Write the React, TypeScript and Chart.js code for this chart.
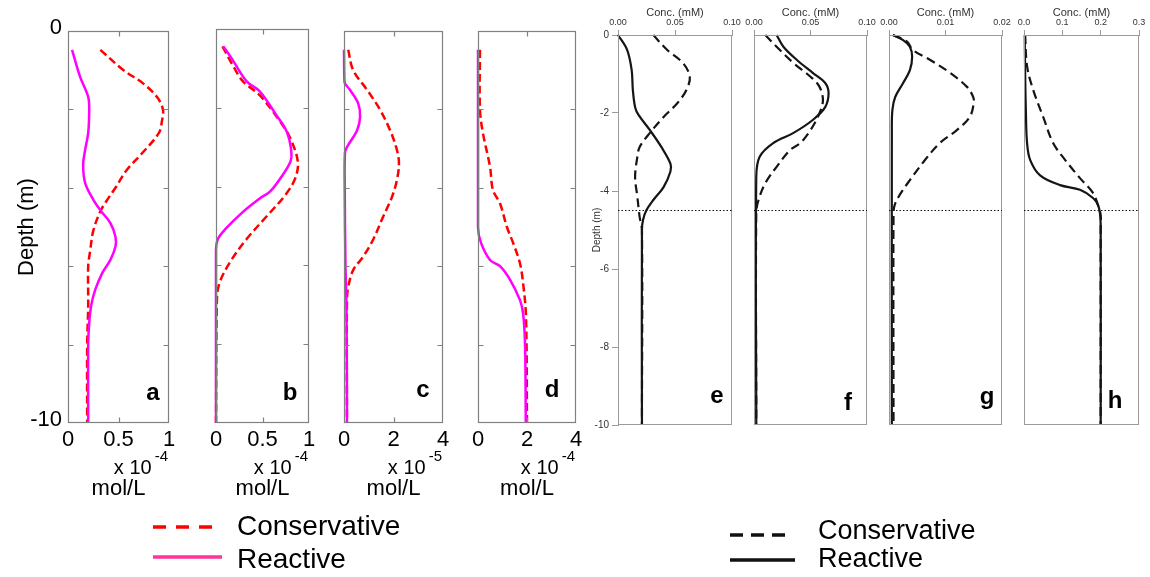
import React, { useEffect, useRef } from "react";
import { Chart, registerables } from "chart.js";

Chart.register(...registerables);

const FONT = "'Liberation Sans', Arial, Helvetica, sans-serif";
Chart.defaults.font.family = FONT;

const PAGE_W = 1150;
const PAGE_H = 577;

// ---------- axes ----------
const depthTicks = [0, -2, -4, -6, -8, -10];
const depthEndLabels = [0, -10];
const ticksAB = [0, 0.5, 1];
const ticksCD = [0, 2, 4];
const ticksEF = [0, 0.05, 0.1];
const ticksG = [0, 0.01, 0.02];
const ticksH = [0, 0.1, 0.2, 0.3];
const thermoclineDepth = -4.5;

// ---------- simulated profiles (mol/L) ----------
// a  (x 10^-4)
const aConsDepth = [-0.48, -1.0, -1.33, -1.68, -2.0, -2.3, -2.6, -3.1, -3.55, -4.0, -4.3, -4.6, -5.1, -5.6, -6.0, -7.0, -8.0, -10.0];
const aConsConc = [0.32, 0.55, 0.74, 0.88, 0.94, 0.93, 0.9, 0.74, 0.58, 0.47, 0.39, 0.32, 0.25, 0.22, 0.2, 0.2, 0.19, 0.19];
const aReacDepth = [-0.48, -1.17, -1.68, -2.0, -2.6, -3.03, -3.4, -3.88, -4.3, -4.57, -4.9, -5.25, -5.5, -5.84, -6.17, -6.6, -7.0, -7.45, -8.0, -10.0];
const aReacConc = [0.04, 0.12, 0.2, 0.21, 0.2, 0.17, 0.15, 0.17, 0.25, 0.32, 0.42, 0.47, 0.47, 0.42, 0.34, 0.27, 0.23, 0.21, 0.2, 0.2];

// b  (x 10^-4)
const bConsDepth = [-0.44, -0.92, -1.33, -1.68, -2.35, -2.78, -3.37, -3.8, -4.23, -4.74, -5.33, -5.92, -6.43, -6.86, -10.0];
const bConsConc = [0.07, 0.18, 0.29, 0.47, 0.69, 0.8, 0.88, 0.85, 0.74, 0.55, 0.33, 0.15, 0.04, 0.01, 0.0];
const bReacDepth = [-0.44, -0.79, -1.33, -1.58, -2.19, -2.6, -3.1, -3.37, -3.8, -4.13, -4.3, -4.64, -5.08, -5.33, -5.6, -10.0];
const bReacConc = [0.08, 0.18, 0.33, 0.47, 0.65, 0.76, 0.81, 0.8, 0.69, 0.58, 0.47, 0.29, 0.1, 0.02, 0.0, 0.0];

// c  (x 10^-5)
const cConsDepth = [-0.48, -1.0, -1.5, -2.0, -2.53, -3.04, -3.37, -3.8, -4.23, -4.74, -5.33, -5.76, -6.1, -6.53, -6.86, -10.0];
const cConsConc = [0.17, 0.37, 0.93, 1.45, 1.86, 2.14, 2.22, 2.14, 1.94, 1.58, 1.17, 0.77, 0.37, 0.17, 0.12, 0.12];
const cReacDepth = [-0.48, -1.3, -1.5, -1.84, -2.19, -2.53, -2.96, -3.1, -4.0, -6.0, -7.0, -10.0];
const cReacConc = [0.0, 0.02, 0.24, 0.57, 0.65, 0.53, 0.12, 0.04, 0.03, 0.06, 0.1, 0.12];

// d  (x 10^-4)
const dConsDepth = [-0.48, -2.0, -2.6, -3.46, -4.06, -4.4, -5.0, -5.4, -5.92, -6.43, -7.3, -10.0];
const dConsConc = [0.08, 0.08, 0.2, 0.49, 0.61, 0.9, 1.18, 1.43, 1.71, 1.84, 1.96, 2.0];
const dReacDepth = [-0.48, -5.0, -5.4, -5.84, -6.0, -6.35, -6.86, -7.2, -8.0, -10.0];
const dReacConc = [0.0, 0.0, 0.12, 0.49, 0.9, 1.31, 1.71, 1.84, 1.92, 1.95];

// ---------- field profiles (mM) ----------
const eConsDepth = [0, -0.38, -0.72, -1.07, -1.41, -1.75, -2.1, -2.51, -2.87, -3.12, -3.64, -4.15, -4.67, -5.0, -10.0];
const eConsConc = [0.031, 0.043, 0.057, 0.063, 0.06, 0.052, 0.04, 0.028, 0.019, 0.017, 0.015, 0.017, 0.019, 0.021, 0.021];
const eReacDepth = [0, -0.38, -0.9, -1.4, -1.85, -2.05, -2.44, -2.87, -3.3, -3.5, -3.9, -4.23, -4.49, -4.74, -5.0, -10.0];
const eReacConc = [0.0, 0.008, 0.012, 0.013, 0.015, 0.018, 0.028, 0.038, 0.046, 0.046, 0.04, 0.031, 0.025, 0.022, 0.021, 0.021];

const fConsDepth = [0, -0.3, -0.72, -1.07, -1.33, -1.67, -2.0, -2.44, -2.77, -2.95, -3.38, -3.8, -4.23, -4.56, -10.0];
const fConsConc = [0.01, 0.02, 0.035, 0.05, 0.058, 0.061, 0.058, 0.05, 0.041, 0.032, 0.02, 0.01, 0.004, 0.002, 0.002];
const fReacDepth = [0, -0.3, -0.64, -0.97, -1.23, -1.49, -1.85, -2.18, -2.51, -2.77, -3.12, -3.64, -10.0];
const fReacConc = [0.02, 0.026, 0.038, 0.052, 0.063, 0.066, 0.063, 0.052, 0.035, 0.017, 0.005, 0.002, 0.002];

const gConsDepth = [0, -0.17, -0.38, -0.64, -0.97, -1.33, -1.59, -1.75, -2.1, -2.44, -2.77, -3.2, -3.72, -4.1, -4.36, -4.56, -10.0];
const gConsConc = [0.0007, 0.0032, 0.0042, 0.0073, 0.0108, 0.0138, 0.0149, 0.015, 0.0143, 0.012, 0.009, 0.0064, 0.0037, 0.0019, 0.001, 0.0008, 0.0008];
const gReacDepth = [0, -0.13, -0.3, -0.56, -0.9, -1.23, -1.59, -1.92, -2.5, -10.0];
const gReacConc = [0.0007, 0.0025, 0.0037, 0.0041, 0.0037, 0.0025, 0.0011, 0.0006, 0.0005, 0.0005];

const hConsDepth = [0, -0.8, -1.41, -2.1, -2.77, -3.2, -3.67, -4.05, -4.36, -4.62, -5.0, -10.0];
const hConsConc = [0.003, 0.008, 0.024, 0.05, 0.076, 0.107, 0.146, 0.18, 0.193, 0.2, 0.2, 0.2];
const hReacDepth = [0, -1.0, -2.0, -2.77, -3.2, -3.6, -3.85, -3.97, -4.18, -4.36, -4.56, -4.87, -10.0];
const hReacConc = [0.002, 0.003, 0.005, 0.008, 0.016, 0.042, 0.094, 0.146, 0.18, 0.193, 0.198, 0.2, 0.2];

// ---------- panel layout ----------
type Box = { left: number; top: number; right: number; bottom: number };
type Panel = {
  key: string;
  letter: string;
  kind: "model" | "field";
  box: Box;
  xTicks: number[];
  xDigits: number | null;
  cons: [number[], number[]];
  reac: [number[], number[]];
  showDepth: boolean;
  expo?: string;
  letterAt: [number, number];
  legend?: any;
};

const modelLegend = {
  font: 28,
  textX: 237,
  items: [
    { label: "Conservative", color: "#ff0000", dash: [13, 10], x0: 153, x1: 212, y: 527, ty: 527 },
    { label: "Reactive", color: "#ff3399", dash: [], x0: 153, x1: 222, y: 557, ty: 560 },
  ],
};
const fieldLegend = {
  font: 27,
  textX: 818,
  items: [
    { label: "Conservative", color: "#111", dash: [13, 8], x0: 730, x1: 788, y: 535, ty: 532 },
    { label: "Reactive", color: "#111", dash: [], x0: 730, x1: 795, y: 560, ty: 560 },
  ],
};

const panels: Panel[] = [
  { key: "a", letter: "a", kind: "model", box: { left: 68, top: 31, right: 169, bottom: 423 }, xTicks: ticksAB, xDigits: null, cons: [aConsDepth, aConsConc], reac: [aReacDepth, aReacConc], showDepth: true, expo: "-4", letterAt: [-16, -23], legend: modelLegend },
  { key: "b", letter: "b", kind: "model", box: { left: 216, top: 29, right: 309, bottom: 423 }, xTicks: ticksAB, xDigits: null, cons: [bConsDepth, bConsConc], reac: [bReacDepth, bReacConc], showDepth: false, expo: "-4", letterAt: [-19, -23] },
  { key: "c", letter: "c", kind: "model", box: { left: 344, top: 31, right: 443, bottom: 423 }, xTicks: ticksCD, xDigits: null, cons: [cConsDepth, cConsConc], reac: [cReacDepth, cReacConc], showDepth: false, expo: "-5", letterAt: [-20, -26] },
  { key: "d", letter: "d", kind: "model", box: { left: 478, top: 31, right: 576, bottom: 423 }, xTicks: ticksCD, xDigits: null, cons: [dConsDepth, dConsConc], reac: [dReacDepth, dReacConc], showDepth: false, expo: "-4", letterAt: [-24, -26] },
  { key: "e", letter: "e", kind: "field", box: { left: 618, top: 35, right: 732, bottom: 425 }, xTicks: ticksEF, xDigits: 2, cons: [eConsDepth, eConsConc], reac: [eReacDepth, eReacConc], showDepth: true, letterAt: [-15, -22], legend: fieldLegend },
  { key: "f", letter: "f", kind: "field", box: { left: 754, top: 35, right: 867, bottom: 425 }, xTicks: ticksEF, xDigits: 2, cons: [fConsDepth, fConsConc], reac: [fReacDepth, fReacConc], showDepth: false, letterAt: [-19, -15] },
  { key: "g", letter: "g", kind: "field", box: { left: 889, top: 35, right: 1002, bottom: 425 }, xTicks: ticksG, xDigits: 2, cons: [gConsDepth, gConsConc], reac: [gReacDepth, gReacConc], showDepth: false, letterAt: [-15, -21] },
  { key: "h", letter: "h", kind: "field", box: { left: 1024, top: 35, right: 1139, bottom: 425 }, xTicks: ticksH, xDigits: 1, cons: [hConsDepth, hConsConc], reac: [hReacDepth, hReacConc], showDepth: false, letterAt: [-24, -17] },
];

const toPoints = ([depth, conc]: [number[], number[]]) => depth.map((d, i) => ({ x: conc[i], y: d }));

// frame, inward ticks, reference line, panel letter, exponent and legend
const decorPlugin = {
  id: "decor",
  afterDraw(chart: any, _args: any, o: any) {
    const { ctx, chartArea: ca } = chart;
    const xs = chart.scales.x;
    const ys = chart.scales.y;
    const L = Math.round(ca.left) + 0.5;
    const R = Math.round(ca.right) - 0.5;
    const T = Math.round(ca.top) + 0.5;
    const B = Math.round(ca.bottom) - 0.5;
    ctx.save();

    ctx.strokeStyle = o.frameColor;
    ctx.lineWidth = o.frameWidth;
    ctx.setLineDash([]);
    ctx.strokeRect(L, T, R - L, B - T);

    if (o.inward) {
      ctx.beginPath();
      for (const v of o.yTicks) {
        if (v === ys.min || v === ys.max) continue;
        const py = Math.round(ys.getPixelForValue(v)) + 0.5;
        ctx.moveTo(L, py);
        ctx.lineTo(L + 5, py);
        ctx.moveTo(R, py);
        ctx.lineTo(R - 5, py);
      }
      for (const v of o.xTicks) {
        if (v === xs.min || v === xs.max) continue;
        const px = Math.round(xs.getPixelForValue(v)) + 0.5;
        ctx.moveTo(px, T);
        ctx.lineTo(px, T + 5);
        ctx.moveTo(px, B);
        ctx.lineTo(px, B - 5);
      }
      ctx.stroke();
    }

    if (o.refDepth != null) {
      const py = Math.round(ys.getPixelForValue(o.refDepth)) + 0.5;
      ctx.strokeStyle = "#111";
      ctx.lineWidth = 1.2;
      ctx.setLineDash([1.5, 2]);
      ctx.beginPath();
      ctx.moveTo(ca.left, py);
      ctx.lineTo(ca.right, py);
      ctx.stroke();
      ctx.setLineDash([]);
    }

    ctx.fillStyle = "#000";
    ctx.font = `bold 24px ${FONT}`;
    ctx.textAlign = "center";
    ctx.textBaseline = "alphabetic";
    ctx.fillText(o.letter, ca.right + o.letterAt[0], ca.bottom + o.letterAt[1]);

    if (o.expo) {
      const y = 468;
      ctx.textAlign = "right";
      ctx.textBaseline = "middle";
      ctx.font = `15px ${FONT}`;
      const sw = ctx.measureText(o.expo).width;
      const rx = ca.right - 1;
      ctx.fillText(o.expo, rx, y - 11);
      ctx.font = `20px ${FONT}`;
      ctx.fillText("x 10", rx - sw - 3, y);
    }

    if (o.legend) {
      const lg = o.legend;
      for (const it of lg.items) {
        ctx.strokeStyle = it.color;
        ctx.lineWidth = 3.5;
        ctx.setLineDash(it.dash);
        ctx.beginPath();
        ctx.moveTo(it.x0, it.y);
        ctx.lineTo(it.x1, it.y);
        ctx.stroke();
        ctx.setLineDash([]);
        ctx.fillStyle = "#000";
        ctx.font = `${lg.font}px ${FONT}`;
        ctx.textAlign = "left";
        ctx.textBaseline = "middle";
        ctx.fillText(it.label, lg.textX, it.ty);
      }
    }
    ctx.restore();
  },
};

function buildConfig(p: Panel): any {
  const model = p.kind === "model";
  const yW = p.showDepth ? (model ? 68 : 40) : 0;
  const xH = model ? PAGE_H - p.box.bottom : p.box.top;
  const fmt = (v: number) => (p.xDigits == null ? String(+v.toFixed(3)) : v.toFixed(p.xDigits));
  const setTicks = (arr: number[]) => (s: any) => {
    s.ticks = arr.map((value) => ({ value }));
  };

  const reacStyle = model
    ? { borderColor: "#ff00ff", borderWidth: 2.5, borderDash: [] }
    : { borderColor: "#151515", borderWidth: 2.2, borderDash: [] };
  const consStyle = model
    ? { borderColor: "#ff0000", borderWidth: 2.5, borderDash: [8, 4] }
    : { borderColor: "#151515", borderWidth: 2.2, borderDash: [9, 5] };

  const common = { pointRadius: 0, fill: false, tension: 0.35, clip: 6 };

  const xScale = model
    ? {
        type: "linear",
        position: "bottom",
        min: p.xTicks[0],
        max: p.xTicks[p.xTicks.length - 1],
        afterBuildTicks: setTicks(p.xTicks),
        afterFit: (s: any) => {
          s.height = xH;
        },
        grid: { display: false, drawTicks: false },
        border: { display: false },
        ticks: { autoSkip: false, maxRotation: 0, padding: 4, color: "#000", font: { size: 22 }, callback: (v: any) => fmt(+v) },
        title: { display: true, text: "mol/L", color: "#000", font: { size: 22 }, padding: { top: 0, bottom: 75 } },
      }
    : {
        type: "linear",
        position: "top",
        min: p.xTicks[0],
        max: p.xTicks[p.xTicks.length - 1],
        afterBuildTicks: setTicks(p.xTicks),
        afterFit: (s: any) => {
          s.height = xH;
        },
        grid: { display: true, drawOnChartArea: false, drawTicks: true, tickLength: 5, color: "#9a9a9a" },
        border: { display: true, color: "#9a9a9a" },
        ticks: { autoSkip: false, maxRotation: 0, padding: 2, color: "#333", font: { size: 9 }, callback: (v: any) => fmt(+v) },
        title: { display: true, text: "Conc. (mM)", color: "#333", font: { size: 11 }, padding: { top: 6, bottom: 0 } },
      };

  const yScale = model
    ? {
        type: "linear",
        position: "left",
        display: p.showDepth,
        min: -10,
        max: 0,
        afterBuildTicks: setTicks(depthTicks),
        afterFit: (s: any) => {
          s.width = yW;
        },
        grid: { display: false, drawTicks: false },
        border: { display: false },
        ticks: {
          autoSkip: false,
          padding: 6,
          labelOffset: -3,
          color: "#000",
          font: { size: 22 },
          callback: (v: any) => (depthEndLabels.includes(+v) ? String(v) : ""),
        },
        title: { display: true, text: "Depth (m)", color: "#000", font: { size: 22 }, padding: { top: 14, bottom: 0 } },
      }
    : {
        type: "linear",
        position: "left",
        display: p.showDepth,
        min: -10,
        max: 0,
        afterBuildTicks: setTicks(depthTicks),
        afterFit: (s: any) => {
          s.width = yW;
        },
        grid: { display: true, drawOnChartArea: false, drawTicks: true, tickLength: 6, color: "#9a9a9a" },
        border: { display: true, color: "#9a9a9a" },
        ticks: { autoSkip: false, padding: 3, color: "#333", font: { size: 10 } },
        title: { display: true, text: "Depth (m)", color: "#333", font: { size: 10 }, padding: { top: 13, bottom: 0 } },
      };

  return {
    type: "line",
    data: {
      datasets: [
        { label: "Reactive", data: toPoints(p.reac), ...common, ...reacStyle },
        { label: "Conservative", data: toPoints(p.cons), ...common, ...consStyle },
      ],
    },
    options: {
      responsive: false,
      animation: false,
      devicePixelRatio: 1,
      events: [],
      layout: {
        padding: {
          left: p.box.left - yW,
          right: PAGE_W - p.box.right,
          top: model ? p.box.top : 0,
          bottom: model ? 0 : PAGE_H - p.box.bottom,
        },
      },
      scales: { x: xScale, y: yScale },
      plugins: {
        legend: { display: false },
        tooltip: { enabled: false },
        decor: {
          frameColor: model ? "#808080" : "#9a9a9a",
          frameWidth: model ? 1.2 : 1,
          inward: model,
          xTicks: p.xTicks,
          yTicks: depthTicks,
          refDepth: model ? null : thermoclineDepth,
          letter: p.letter,
          letterAt: p.letterAt,
          expo: p.expo,
          legend: p.legend,
        },
      },
    },
    plugins: [decorPlugin],
  };
}

function PanelChart({ p }: { p: Panel }) {
  const ref = useRef<HTMLCanvasElement | null>(null);
  useEffect(() => {
    if (!ref.current) return;
    const chart = new Chart(ref.current, buildConfig(p));
    return () => chart.destroy();
  }, [p]);
  return (
    <canvas
      ref={ref}
      width={PAGE_W}
      height={PAGE_H}
      style={{ position: "absolute", left: 0, top: 0, width: PAGE_W, height: PAGE_H }}
    />
  );
}

export default function App() {
  return (
    <div style={{ position: "absolute", left: 0, top: 0, width: PAGE_W, height: PAGE_H, background: "#fff", overflow: "hidden" }}>
      {panels.map((p) => (
        <PanelChart key={p.key} p={p} />
      ))}
    </div>
  );
}
